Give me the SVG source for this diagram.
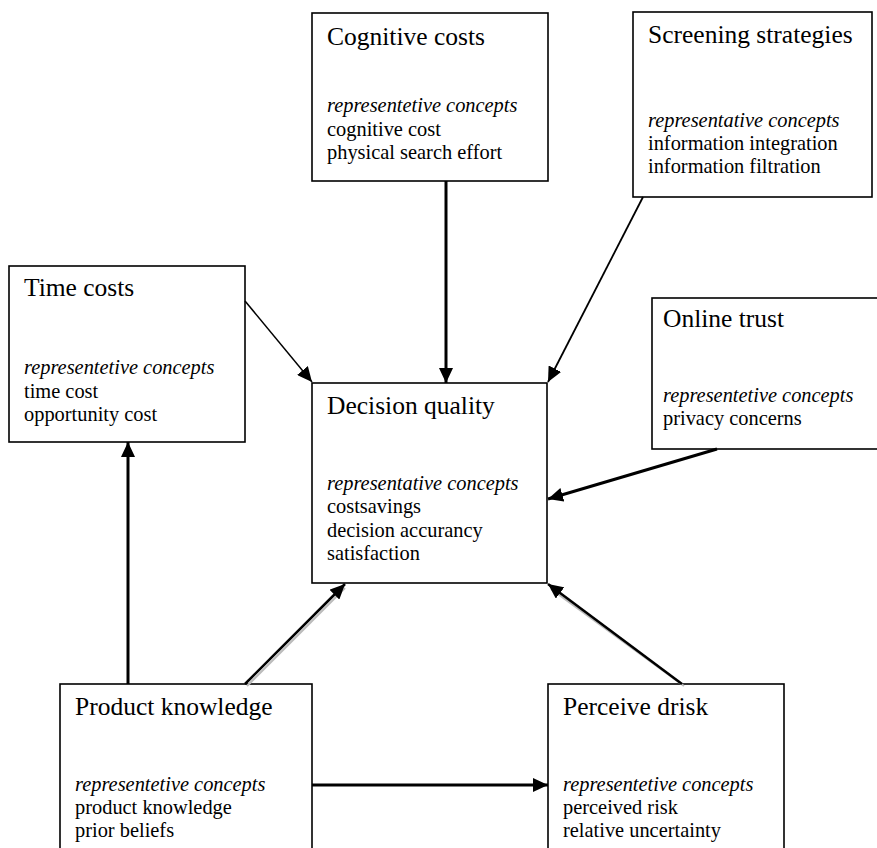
<svg xmlns="http://www.w3.org/2000/svg" width="877" height="848" viewBox="0 0 877 848">
<style>
.box{fill:#fff;stroke:#000;stroke-width:1.6}
.t{font-family:"Liberation Serif","Times New Roman",serif;font-size:25.5px;fill:#000}
.b{font-family:"Liberation Serif","Times New Roman",serif;font-size:20.4px;fill:#000}
.i{font-style:italic}
.c{stroke:#000;fill:none}
.sh{stroke:#bbb;fill:none}
</style>
<defs>
<marker id="ah" markerUnits="userSpaceOnUse" markerWidth="16" markerHeight="14" refX="15" refY="7" orient="auto">
<path d="M0,0 L15,7 L0,14 z" fill="#000"/>
</marker>
</defs>
<rect width="877" height="848" fill="#fff"/>

<g id="cognitive-costs">
<rect class="box" x="312" y="13" width="236" height="168"/>
<text class="t" x="327" y="45">Cognitive costs</text>
<text class="b i" x="327" y="112">representetive concepts</text>
<text class="b" x="327" y="135.5">cognitive cost</text>
<text class="b" x="327" y="159">physical search effort</text>
</g>

<g id="screening-strategies">
<rect class="box" x="633" y="12" width="239" height="185"/>
<text class="t" x="648" y="43">Screening strategies</text>
<text class="b i" x="648" y="127">representative concepts</text>
<text class="b" x="648" y="150">information integration</text>
<text class="b" x="648" y="173">information filtration</text>
</g>

<g id="time-costs">
<rect class="box" x="9" y="266" width="236" height="176"/>
<text class="t" x="24" y="296">Time costs</text>
<text class="b i" x="24" y="374">representetive concepts</text>
<text class="b" x="24" y="397.5">time cost</text>
<text class="b" x="24" y="421">opportunity cost</text>
</g>

<g id="online-trust">
<rect class="box" x="652" y="298" width="240" height="151"/>
<text class="t" x="663" y="327">Online trust</text>
<text class="b i" x="663" y="402">representetive concepts</text>
<text class="b" x="663" y="425">privacy concerns</text>
</g>

<g id="decision-quality">
<rect class="box" x="312" y="383" width="235" height="200"/>
<text class="t" x="327" y="414">Decision quality</text>
<text class="b i" x="327" y="490">representative concepts</text>
<text class="b" x="327" y="513.3">costsavings</text>
<text class="b" x="327" y="536.7">decision accurancy</text>
<text class="b" x="327" y="560">satisfaction</text>
</g>

<g id="product-knowledge">
<rect class="box" x="60" y="684" width="252" height="180"/>
<text class="t" x="75" y="715">Product knowledge</text>
<text class="b i" x="75" y="791">representetive concepts</text>
<text class="b" x="75" y="814">product knowledge</text>
<text class="b" x="75" y="837">prior beliefs</text>
</g>

<g id="perceived-risk">
<rect class="box" x="548" y="684" width="236" height="180"/>
<text class="t" x="563" y="715">Perceive drisk</text>
<text class="b i" x="563" y="791">representetive concepts</text>
<text class="b" x="563" y="814">perceived risk</text>
<text class="b" x="563" y="837">relative uncertainty</text>
</g>

<g id="connectors">
<line class="sh" x1="247" y1="686" x2="345" y2="588" stroke-width="2"/>
<line class="sh" x1="684" y1="686" x2="551" y2="589" stroke-width="2"/>
<line class="c" x1="446" y1="181" x2="446" y2="383" stroke-width="3" marker-end="url(#ah)"/>
<line class="c" x1="643" y1="197" x2="548" y2="382" stroke-width="1.8" marker-end="url(#ah)"/>
<line class="c" x1="245" y1="301" x2="312" y2="382" stroke-width="1.5" marker-end="url(#ah)"/>
<line class="c" x1="717" y1="449" x2="548" y2="499" stroke-width="3" marker-end="url(#ah)"/>
<line class="c" x1="128" y1="684" x2="128" y2="442" stroke-width="3" marker-end="url(#ah)"/>
<line class="c" x1="245" y1="684" x2="345" y2="584" stroke-width="2.5" marker-end="url(#ah)"/>
<line class="c" x1="312" y1="785" x2="548" y2="785" stroke-width="3" marker-end="url(#ah)"/>
<line class="c" x1="682" y1="684" x2="548" y2="584" stroke-width="2.5" marker-end="url(#ah)"/>
</g>
</svg>
